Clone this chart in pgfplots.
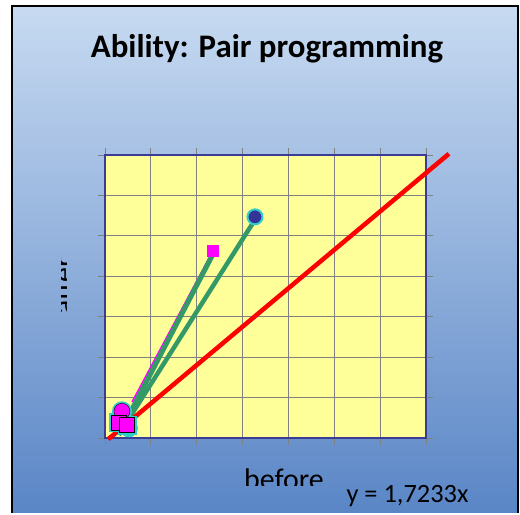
\documentclass[border=0pt]{standalone}
\usepackage{pgfplots}
\pgfplotsset{compat=1.18}
\usepackage{fontspec}
\setmainfont{Carlito}
\definecolor{bgtop}{RGB}{199,218,241}
\definecolor{bgbot}{RGB}{90,134,198}
\definecolor{plotbg}{RGB}{255,255,153}
\definecolor{gridc}{RGB}{128,128,128}
\definecolor{frameb}{RGB}{60,60,150}
\definecolor{navyc}{RGB}{51,51,153}
\definecolor{cyanc}{RGB}{51,204,204}
\definecolor{greenc}{RGB}{51,153,102}
\definecolor{pinkc}{RGB}{255,0,255}
\begin{document}
\begin{tikzpicture}[x=1bp,y=1bp]
\fill[white] (0,0) rectangle (520,513);
\shade[top color=bgtop, bottom color=bgbot] (12,0) rectangle (518,507);
\draw[black, line width=2.5bp] (12,0) -- (12,507) -- (518,507) -- (518,0);
\node[anchor=base, font=\bfseries\fontsize{33}{38}\selectfont] at (267,455) {Ability: Pair programming};
\node[anchor=base west, font=\fontsize{26.5}{30}\selectfont] at (343,10) {y = 1,7233x};
\begin{scope}
\clip (200,27) rectangle (360,60);
\node[anchor=base west, font=\fontsize{30}{34}\selectfont, inner sep=0pt] at (244,23) {before};
\end{scope}
\begin{scope}
\clip (61,150) rectangle (66,300);
\node[rotate=90, anchor=base, font=\fontsize{30}{34}\selectfont, inner sep=0pt] at (73,227) {after};
\end{scope}
\begin{axis}[
  at={(105bp,75bp)}, anchor=south west,
  scale only axis, width=321bp, height=283bp,
  xmin=0, xmax=7, ymin=0, ymax=7,
  xtick={0,1,...,7}, ytick={0,1,...,7},
  xticklabels={}, yticklabels={},
  tick align=outside, major tick length=7bp,
  tick style={gridc, line width=0.9bp},
  grid=major, major grid style={gridc, line width=1bp},
  axis background/.style={fill=plotbg},
  axis line style={frameb, line width=1.8bp},
  clip=false,
]
% cluster markers near origin
\addplot[only marks, mark=*, mark size=8bp, mark options={fill=navyc, draw=cyanc, line width=2bp}] coordinates {(0.52,0.24)};
\addplot[only marks, mark=*, mark size=9bp, mark options={fill=pinkc, draw=cyanc, line width=2bp}] coordinates {(0.37,0.66)};
\addplot[only marks, mark=square*, mark size=8.5bp, mark options={fill=pinkc, draw=cyanc, line width=2bp}] coordinates {(0.29,0.38) (0.48,0.32)};
\addplot[only marks, mark=*, mark size=8bp, mark options={fill=pinkc, draw=none}] coordinates {(0.37,0.66)};
\addplot[only marks, mark=square*, mark size=7.5bp, mark options={fill=pinkc, draw=none}] coordinates {(0.29,0.38) (0.48,0.32)};
% upper markers
\addplot[only marks, mark=*, mark size=7.5bp, mark options={fill=navyc, draw=cyanc, line width=2bp}] coordinates {(3.27,5.47)};
\addplot[only marks, mark=square*, mark size=5.5bp, mark options={fill=pinkc, draw=pinkc}] coordinates {(2.355,4.63)};
% connecting lines
\addplot[pinkc, line width=1.6bp, no marks] coordinates {(0.59,0.89) (2.355,4.63)};
\addplot[greenc, line width=5bp, no marks] coordinates {(0.30,0.08) (2.355,4.55)};
\addplot[greenc, line width=4.5bp, no marks] coordinates {(0.30,0.08) (3.27,5.40)};
% red line
\addplot[red, line width=4.5bp, no marks] coordinates {(0.07,-0.03) (7.5,7.03)};
\end{axis}
\end{tikzpicture}
\end{document}
